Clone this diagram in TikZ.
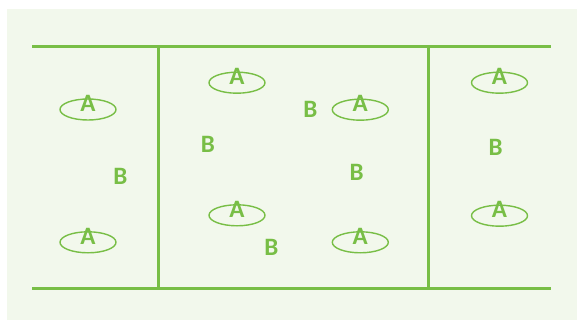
\documentclass[tikz,border=0pt]{standalone}
\usepackage{fontspec}
\setmainfont{Carlito}
\usetikzlibrary{shapes.geometric}
\definecolor{bg}{RGB}{242,248,236}
\definecolor{gr}{RGB}{120,190,70}
\begin{document}
\begin{tikzpicture}[x=1pt,y=-1pt,
  wall/.style={draw=gr,line width=3pt},
  ringA/.style={draw=gr,line width=1.4pt,ellipse,minimum width=56pt,minimum height=21pt,inner sep=0pt},
  lab/.style={text=gr,font=\bfseries\fontsize{25}{25}\selectfont,inner sep=0pt,anchor=base}]
\useasboundingbox (0,0) rectangle (577,320);
\fill[bg] (7,9) rectangle (577,320);
\coordinate (tl) at (32,47);
\coordinate (tr) at (551,47);
\coordinate (bl) at (32,288.5);
\coordinate (br) at (551,288.5);
\coordinate (v1t) at (158.7,47);
\coordinate (v1b) at (158.7,288.5);
\coordinate (v2t) at (428,47);
\coordinate (v2b) at (428,288.5);
\draw[wall] (tl) -- (tr);
\draw[wall] (bl) -- (br);
\draw[wall] (v1t) -- (v1b);
\draw[wall] (v2t) -- (v2b);
% ellipses
\node[ringA] (e1) at (88,109.5) {};
\node[ringA] (e2) at (88,242.3) {};
\node[ringA] (e3) at (237,82.7) {};
\node[ringA] (e4) at (360.3,109.7) {};
\node[ringA] (e5) at (237,215.3) {};
\node[ringA] (e6) at (360.3,242.3) {};
\node[ringA] (e7) at (499.5,82.7) {};
\node[ringA] (e8) at (499.5,215.7) {};
% A labels
\node[lab] (a1) at (88,111.5) {A};
\node[lab] (a2) at (88,244.3) {A};
\node[lab] (a3) at (237,84.7) {A};
\node[lab] (a4) at (360.3,111.7) {A};
\node[lab] (a5) at (237,217.3) {A};
\node[lab] (a6) at (360.3,244.3) {A};
\node[lab] (a7) at (499.5,84.7) {A};
\node[lab] (a8) at (499.5,217.7) {A};
% B labels
\node[lab] (b1) at (120.3,185) {B};
\node[lab] (b2) at (208,152.3) {B};
\node[lab] (b3) at (310.5,117.3) {B};
\node[lab] (b4) at (356.7,181) {B};
\node[lab] (b5) at (271.5,255) {B};
\node[lab] (b6) at (495.7,156) {B};
\end{tikzpicture}
\end{document}
